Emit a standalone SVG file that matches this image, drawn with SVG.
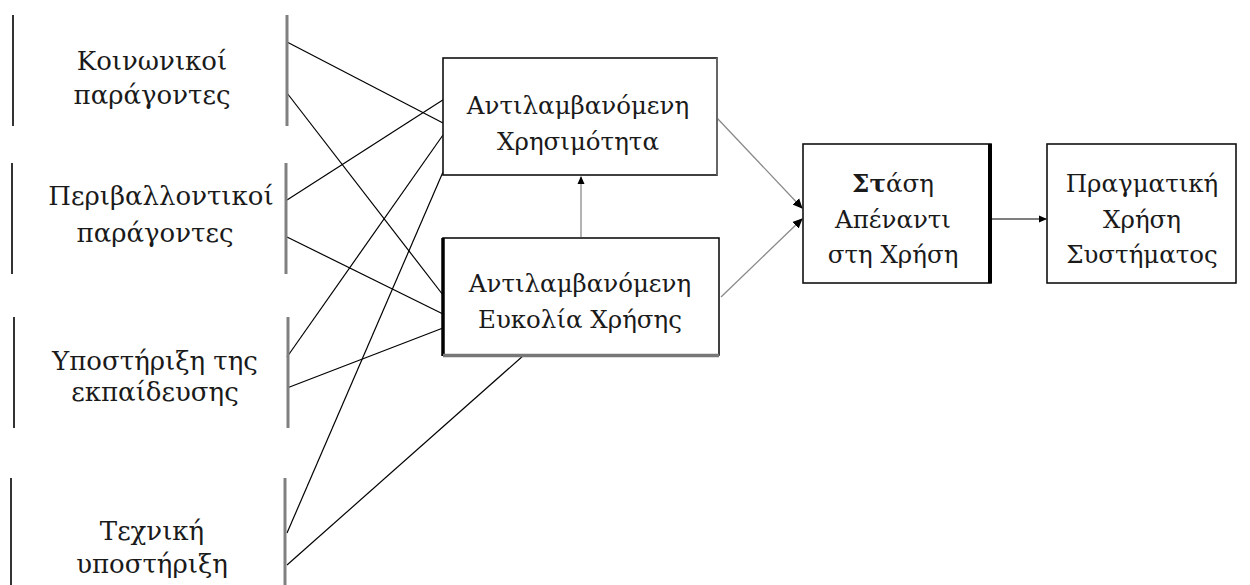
<svg xmlns="http://www.w3.org/2000/svg" width="1250" height="585" viewBox="0 0 1250 585">
<style>
text{font-family:"DejaVu Serif","Liberation Serif",serif;font-size:26px;fill:#1a1a1a;text-anchor:middle}
.bx text{font-size:24.5px}
.lb{stroke:#333;stroke-width:2}
.rb{stroke:#808080;stroke-width:3}
.ln{stroke:#000;stroke-width:1.2;fill:none}
.gl{stroke:#8a8a8a;stroke-width:1.3;fill:none}
.box{fill:#fff;stroke:#111;stroke-width:1.6}
</style>
<defs>
<marker id="ah" markerWidth="8" markerHeight="8" refX="7" refY="4" orient="auto" markerUnits="userSpaceOnUse">
<path d="M0,0.5 L8,4 L0,7.5 Z" fill="#000"/>
</marker>
<marker id="ahb" markerWidth="10" markerHeight="10" refX="9" refY="5" orient="auto" markerUnits="userSpaceOnUse">
<path d="M0,0.5 L10,5 L0,9.5 Z" fill="#000"/>
</marker>
</defs>
<g id="connectors">
<line class="ln" x1="287" y1="42" x2="443" y2="123"/>
<line class="ln" x1="287" y1="93" x2="443" y2="295"/>
<line class="ln" x1="287" y1="200" x2="449" y2="96"/>
<line class="ln" x1="287" y1="237" x2="443" y2="314"/>
<line class="ln" x1="287" y1="357" x2="443" y2="135"/>
<line class="ln" x1="287" y1="388" x2="443" y2="328"/>
<line class="ln" x1="287" y1="533" x2="443" y2="172"/>
<line class="ln" x1="287" y1="565" x2="524" y2="355"/>
<line class="gl" x1="581" y1="237" x2="581" y2="177" marker-end="url(#ah)"/>
<line class="gl" x1="717" y1="118" x2="802" y2="208" marker-end="url(#ahb)"/>
<line class="gl" x1="721" y1="297" x2="802" y2="219" marker-end="url(#ahb)"/>
<line class="ln" x1="992" y1="219" x2="1046" y2="219" marker-end="url(#ah)"/>
</g>
<g id="n-koinonikoi">
<line class="lb" x1="13" y1="15" x2="13" y2="126"/>
<line class="rb" x1="287" y1="15" x2="287" y2="126"/>
<text x="152" y="70">Κοινωνικοί</text>
<text x="152" y="104">παράγοντες</text>
</g>
<g id="n-perivallontikoi">
<line class="lb" x1="12" y1="163" x2="12" y2="274"/>
<line class="rb" x1="286" y1="163" x2="286" y2="274"/>
<text x="161" y="205">Περιβαλλοντικοί</text>
<text x="155" y="242">παράγοντες</text>
</g>
<g id="n-ekpaidefsi">
<line class="lb" x1="14" y1="317" x2="14" y2="428"/>
<line class="rb" x1="288" y1="317" x2="288" y2="428"/>
<text x="155" y="370">Υποστήριξη της</text>
<text x="155" y="401">εκπαίδευσης</text>
</g>
<g id="n-texniki">
<line class="lb" x1="11" y1="478" x2="11" y2="585"/>
<line class="rb" x1="285" y1="478" x2="285" y2="585"/>
<text x="152" y="540">Τεχνική</text>
<text x="152" y="573">υποστήριξη</text>
</g>
<g id="n-xrisimotita" class="bx">
<rect class="box" x="443" y="58" width="274" height="117"/>
<line x1="717" y1="58" x2="717" y2="175" stroke="#666" stroke-width="2"/>
<text x="578" y="114">Αντιλαμβανόμενη</text>
<text x="578" y="150">Χρησιμότητα</text>
</g>
<g id="n-efkolia" class="bx">
<rect class="box" x="443" y="238" width="276" height="117"/>
<line x1="443" y1="238" x2="443" y2="356" stroke="#000" stroke-width="3.5"/>
<line x1="443" y1="355.5" x2="719" y2="355.5" stroke="#777" stroke-width="3.5"/>
<text x="580" y="292">Αντιλαμβανόμενη</text>
<text x="580" y="328">Ευκολία Χρήσης</text>
</g>
<g id="n-stasi" class="bx">
<rect class="box" x="803" y="144" width="188" height="139"/>
<line x1="990" y1="144" x2="990" y2="283" stroke="#000" stroke-width="4"/>
<text x="893" y="192"><tspan font-weight="bold">Στ</tspan>άση</text>
<text x="893" y="228">Απέναντι</text>
<text x="893" y="263">στη Χρήση</text>
</g>
<g id="n-pragmatiki" class="bx">
<rect class="box" x="1047" y="144" width="189" height="139"/>
<text x="1142" y="192">Πραγματική</text>
<text x="1142" y="228">Χρήση</text>
<text x="1142" y="263">Συστήματος</text>
</g>
</svg>
